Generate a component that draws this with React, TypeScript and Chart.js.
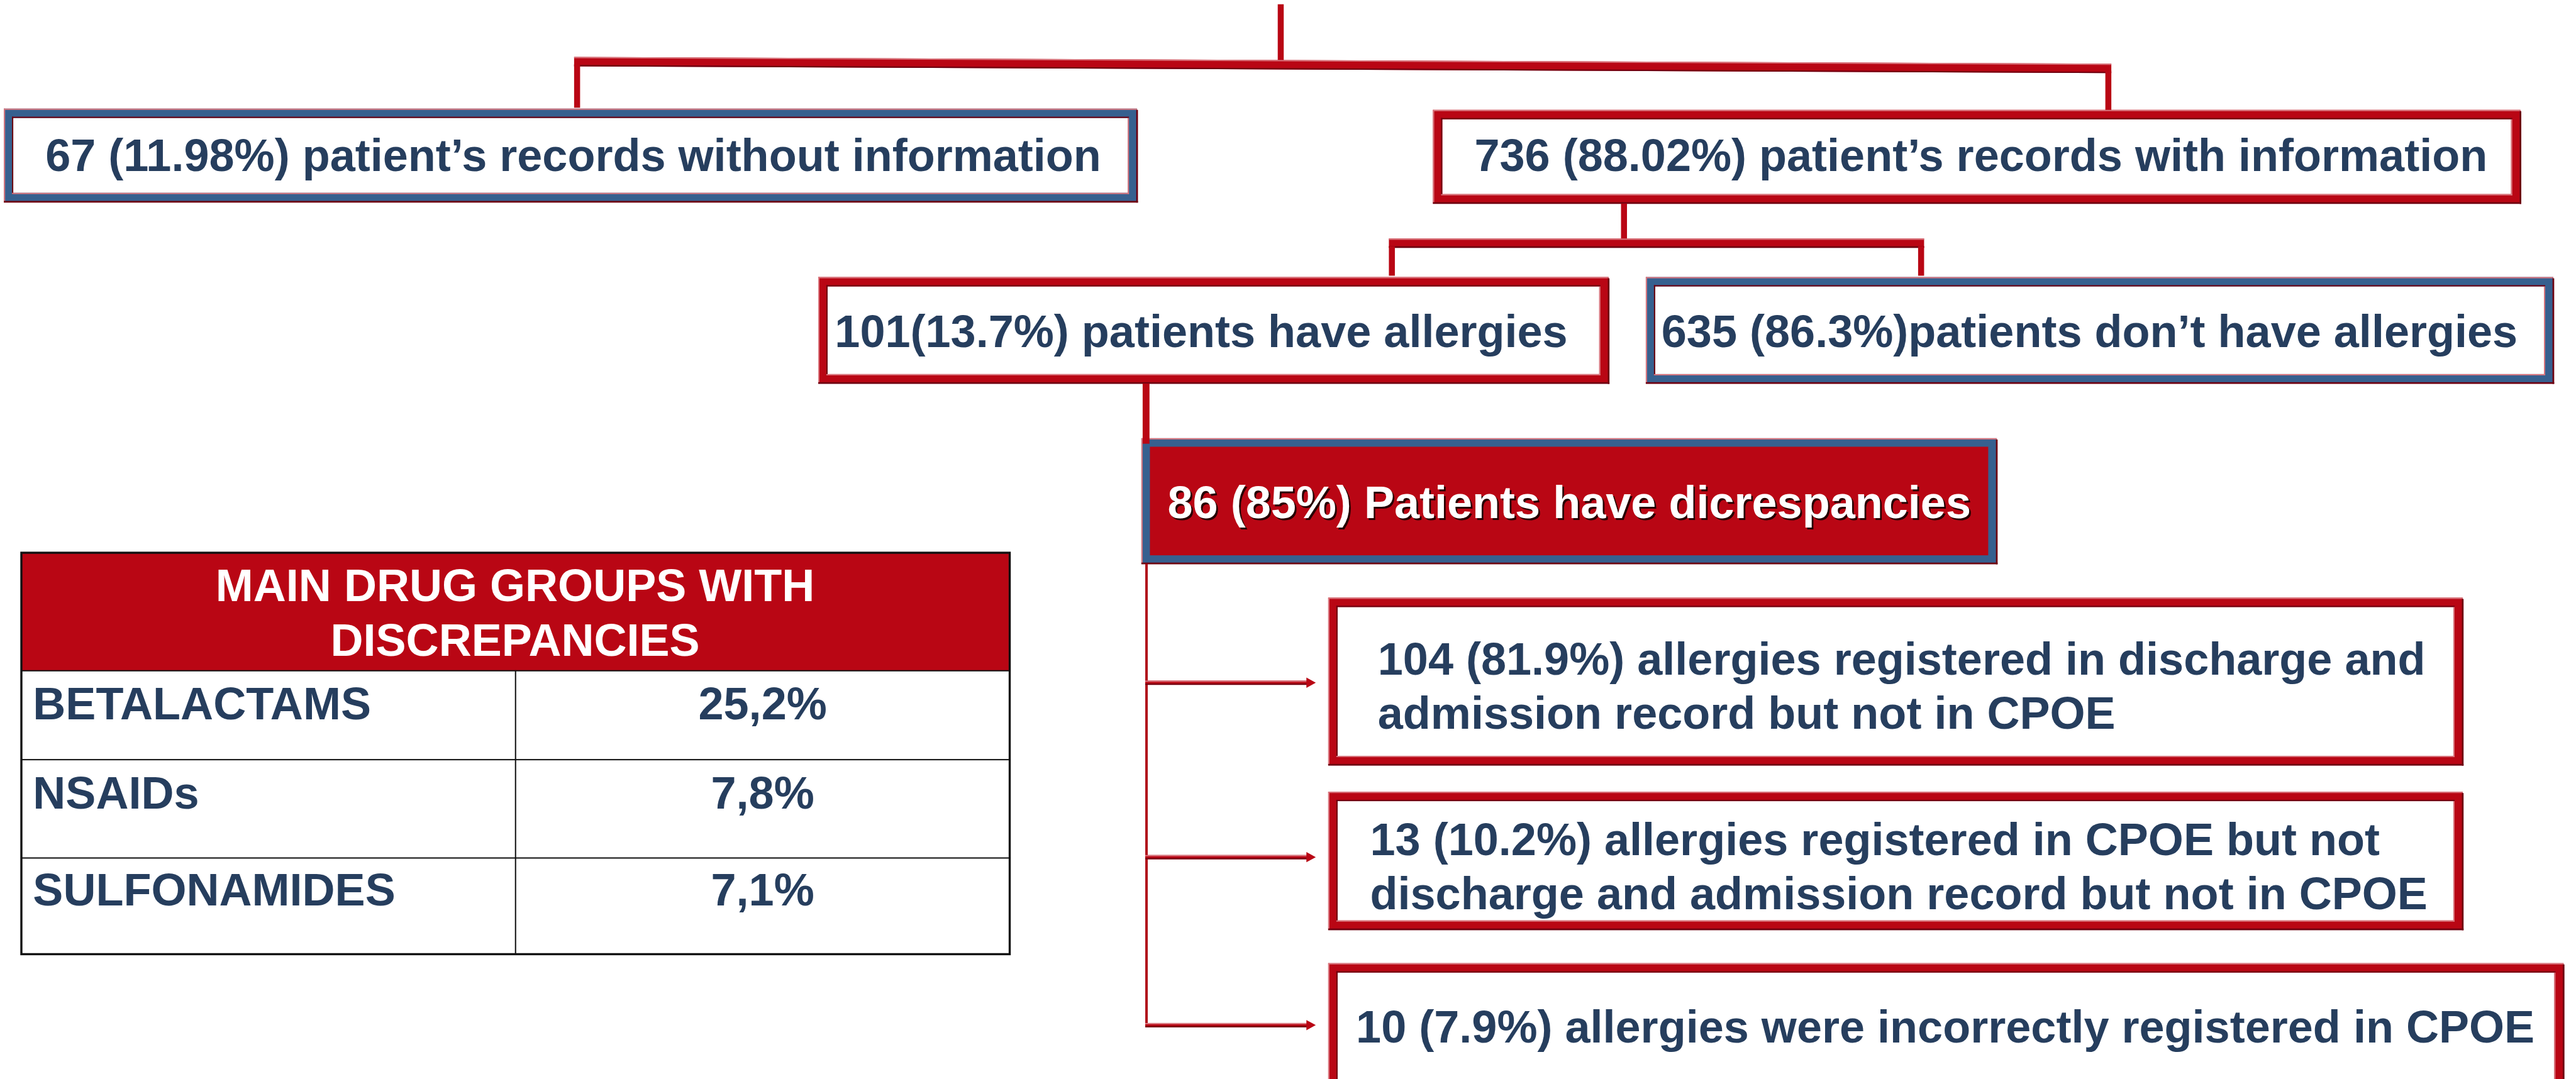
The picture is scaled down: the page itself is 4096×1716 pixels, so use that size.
import React, { useEffect, useRef } from "react";
import { Chart, registerables } from "chart.js";

Chart.register(...registerables);

// ---------- DATA ----------
const recordGroups = [
  "67 (11.98%) patient’s records without information",
  "736 (88.02%) patient’s records with information",
];
const allergyGroups = [
  "101(13.7%) patients have allergies",
  "635 (86.3%)patients don’t have allergies",
];
const discrepancyGroup = "86 (85%) Patients have dicrespancies";
const discrepancyTypes = [
  ["104 (81.9%) allergies registered in discharge and", "admission record but not in CPOE"],
  ["13 (10.2%) allergies registered in CPOE but not", "discharge and admission record but not in CPOE"],
  ["10 (7.9%) allergies were incorrectly registered in CPOE"],
];
const drugTableTitle = ["MAIN DRUG GROUPS WITH", "DISCREPANCIES"];
const drugGroups = ["BETALACTAMS", "NSAIDs", "SULFONAMIDES"];
const drugShares = ["25,2%", "7,8%", "7,1%"];

// ---------- LAYOUT (reference coordinate space) ----------
const REF_W = 6026;
const REF_H = 2524;

const RED = "#b90614";
const BLUE = "#36608f";
const PINK = "#d9767e";
const MAROON = "#6e0010";
const NAVY = "#263e5e";

const recordBoxes = [
  { x0: 9, y0: 254, x1: 2660, y1: 473, band: BLUE, tx: 1341, ty: 400 },
  { x0: 3352, y0: 257, x1: 5896, y1: 476, band: RED, tx: 4634, ty: 400 },
];
const allergyBoxes = [
  { x0: 1914, y0: 648, x1: 3763, y1: 897, band: RED, tx: 2810, ty: 812 },
  { x0: 3850, y0: 648, x1: 5973, y1: 897, band: BLUE, tx: 4888, ty: 812 },
];
const discrepancyBox = { x0: 2670, y0: 1025, x1: 4671, y1: 1319, tx: 3671, ty: 1212 };
const typeBoxes = [
  { x0: 3107, y0: 1398, x1: 5761, y1: 1790, tx: 3223, ty: [1578, 1705], arrowY: 1597 },
  { x0: 3107, y0: 1852, x1: 5761, y1: 2175, tx: 3205, ty: [2000, 2127], arrowY: 2005 },
  { x0: 3107, y0: 2253, x1: 5997, y1: 2620, tx: 3172, ty: [2438], arrowY: 2398 },
];
const table = {
  x0: 50, x1: 2362, colX: 1206,
  rows: [1293, 1569, 1777, 2007, 2232],
  titleX: 1205, titleY: [1406, 1534],
  labelX: 77, valueX: 1784, rowY: [1682, 1891, 2118],
};
const trunkX = 2682;
const FONT_SIZE = 106;

const flowPlugin = {
  id: "flow",
  beforeDraw(chart: any) {
    const { ctx, width, height } = chart;
    ctx.save();
    ctx.fillStyle = "#ffffff";
    ctx.fillRect(0, 0, width, height);
    ctx.restore();
  },
  afterDraw(chart: any) {
    const { ctx, scales } = chart;
    const X = (v: number) => scales.x.getPixelForValue(v);
    const Y = (v: number) => scales.y.getPixelForValue(v);
    const k = (X(REF_W) - X(0)) / REF_W;
    const font = (s: number) => `bold ${s * k}px "Liberation Sans", Arial, sans-serif`;

    const rect = (x0: number, y0: number, x1: number, y1: number, c: string) => {
      ctx.fillStyle = c;
      ctx.fillRect(X(x0), Y(y0), X(x1) - X(x0), Y(y1) - Y(y0));
    };
    const vline = (x: number, y0: number, y1: number, w: number, c: string) =>
      rect(x - w / 2, y0, x + w / 2, y1, c);

    const frame = (b: any, band: string, fill: string, bw: number, inner: boolean) => {
      const { x0, y0, x1, y1 } = b;
      rect(x0, y0, x1, y1, band);
      // outer bevel
      rect(x0, y0, x1, y0 + 3, PINK);
      rect(x0, y0, x0 + 3, y1, PINK);
      rect(x0, y1 - 3, x1 + 2, y1 + 1, MAROON);
      rect(x1 - 2, y0 + 3, x1 + 2, y1 + 1, MAROON);
      rect(x0 + bw, y0 + bw, x1 - bw, y1 - bw, fill);
      if (inner) {
        rect(x0 + bw - 3, y0 + bw - 3, x1 - bw + 3, y0 + bw, MAROON);
        rect(x0 + bw - 3, y0 + bw - 3, x0 + bw, y1 - bw + 3, MAROON);
        rect(x0 + bw - 3, y1 - bw, x1 - bw + 3, y1 - bw + 3, PINK);
        rect(x1 - bw, y0 + bw, x1 - bw + 3, y1 - bw + 3, PINK);
      }
    };

    const text = (s: string, x: number, y: number, align: string, color: string) => {
      ctx.fillStyle = color;
      ctx.textAlign = align;
      ctx.textBaseline = "alphabetic";
      ctx.fillText(s, X(x), Y(y));
    };

    ctx.save();

    // ---- top connectors ----
    vline(2996, 10, 142, 14, RED);
    ctx.beginPath();
    ctx.moveTo(X(1343), Y(133));
    ctx.lineTo(X(4939), Y(149));
    ctx.lineTo(X(4939), Y(171));
    ctx.lineTo(X(1343), Y(155));
    ctx.closePath();
    ctx.fillStyle = RED;
    ctx.fill();
    ctx.lineWidth = 3 * k;
    ctx.strokeStyle = PINK;
    ctx.beginPath();
    ctx.moveTo(X(1343), Y(134.5));
    ctx.lineTo(X(4939), Y(150.5));
    ctx.stroke();
    ctx.strokeStyle = MAROON;
    ctx.beginPath();
    ctx.moveTo(X(1343), Y(153.5));
    ctx.lineTo(X(4939), Y(169.5));
    ctx.stroke();
    vline(1350, 150, 252, 14, RED);
    vline(4932, 165, 258, 14, RED);

    // ---- record boxes ----
    recordBoxes.forEach((b) => frame(b, b.band, "#ffffff", 22, true));
    ctx.font = font(FONT_SIZE);
    recordBoxes.forEach((b, i) => text(recordGroups[i], b.tx, b.ty, "center", NAVY));

    // ---- second level connectors ----
    vline(3799, 476, 562, 14, RED);
    rect(3249, 558, 4501, 579, RED);
    rect(3249, 558, 4501, 561, PINK);
    rect(3249, 576, 4501, 580, MAROON);
    vline(3256, 576, 645, 14, RED);
    vline(4494, 576, 645, 14, RED);

    allergyBoxes.forEach((b) => frame(b, b.band, "#ffffff", 22, true));
    ctx.font = font(FONT_SIZE);
    allergyBoxes.forEach((b, i) => text(allergyGroups[i], b.tx, b.ty, "center", NAVY));

    // ---- discrepancy box ----
    frame(discrepancyBox, BLUE, RED, 20, false);
    vline(2681, 897, 1038, 16, RED);
    ctx.font = font(FONT_SIZE);
    ctx.save();
    ctx.shadowColor = "rgba(30,0,0,0.95)";
    ctx.shadowBlur = 0;
    ctx.shadowOffsetX = 4 * k;
    ctx.shadowOffsetY = 4 * k;
    text(discrepancyGroup, discrepancyBox.tx, discrepancyBox.ty, "center", "#ffffff");
    ctx.restore();

    // ---- trunk + arrows ----
    vline(trunkX, 1319, typeBoxes[typeBoxes.length - 1].arrowY + 3, 6, "#b0101c");
    typeBoxes.forEach((b) => {
      const y = b.arrowY;
      rect(trunkX - 3, y - 5, 3060, y + 5, RED);
      rect(trunkX - 3, y - 5, 3060, y - 2, PINK);
      rect(trunkX - 3, y + 2, 3060, y + 5, MAROON);
      ctx.beginPath();
      ctx.moveTo(X(3056), Y(y - 12));
      ctx.lineTo(X(3078), Y(y));
      ctx.lineTo(X(3056), Y(y + 12));
      ctx.closePath();
      ctx.fillStyle = RED;
      ctx.fill();
    });

    typeBoxes.forEach((b) => frame(b, RED, "#ffffff", 22, true));
    ctx.font = font(FONT_SIZE);
    typeBoxes.forEach((b, i) =>
      discrepancyTypes[i].forEach((line, j) => text(line, b.tx, b.ty[j], "left", NAVY))
    );

    // ---- table ----
    const r = table.rows;
    rect(table.x0, r[0], table.x1, r[1], RED);
    rect(table.x0, r[1], table.x1, r[4], "#ffffff");
    // inner lines
    for (let i = 1; i < r.length - 1; i++) rect(table.x0, r[i] - 1.5, table.x1, r[i] + 1.5, "#111111");
    rect(table.colX - 1.5, r[1], table.colX + 1.5, r[4], "#111111");
    // outer border
    ctx.strokeStyle = "#111111";
    ctx.lineWidth = 5 * k;
    ctx.strokeRect(X(table.x0), Y(r[0]), X(table.x1) - X(table.x0), Y(r[4]) - Y(r[0]));

    ctx.font = font(FONT_SIZE);
    drugTableTitle.forEach((line, i) => text(line, table.titleX, table.titleY[i], "center", "#ffffff"));
    drugGroups.forEach((g, i) => {
      text(g, table.labelX, table.rowY[i], "left", NAVY);
      text(drugShares[i], table.valueX, table.rowY[i], "center", NAVY);
    });

    ctx.restore();
  },
};

export default function App() {
  const ref = useRef<HTMLCanvasElement | null>(null);
  useEffect(() => {
    document.body.style.margin = "0";
    document.body.style.overflow = "hidden";
    if (!ref.current) return;
    const nodePoints = [
      ...recordBoxes.map((b) => ({ x: (b.x0 + b.x1) / 2, y: (b.y0 + b.y1) / 2 })),
      ...allergyBoxes.map((b) => ({ x: (b.x0 + b.x1) / 2, y: (b.y0 + b.y1) / 2 })),
      { x: (discrepancyBox.x0 + discrepancyBox.x1) / 2, y: (discrepancyBox.y0 + discrepancyBox.y1) / 2 },
      ...typeBoxes.map((b) => ({ x: (b.x0 + b.x1) / 2, y: (b.y0 + b.y1) / 2 })),
    ];
    const chart = new Chart(ref.current, {
      type: "scatter",
      data: {
        datasets: [
          { data: nodePoints, pointRadius: 0, pointHoverRadius: 0, showLine: false },
        ],
      },
      options: {
        animation: false,
        responsive: false,
        devicePixelRatio: 1,
        layout: { padding: 0 },
        events: [],
        scales: {
          x: { type: "linear", min: 0, max: REF_W, display: false },
          y: { type: "linear", min: 0, max: REF_H, reverse: true, display: false },
        },
        plugins: { legend: { display: false }, tooltip: { enabled: false }, title: { display: false } },
      },
      plugins: [flowPlugin],
    } as any);
    return () => chart.destroy();
  }, []);
  return (
    <div style={{ width: "4096px", height: "1716px", margin: 0, padding: 0 }}>
      <canvas ref={ref} width={4096} height={1716} style={{ display: "block" }} />
    </div>
  );
}
